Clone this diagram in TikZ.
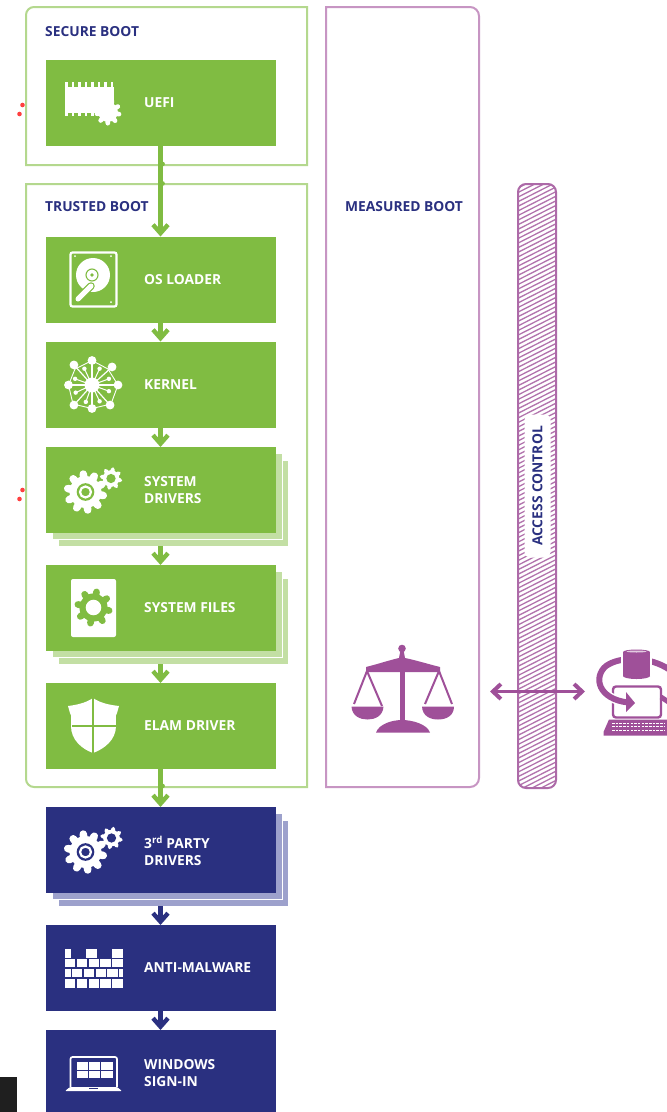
\documentclass[tikz,border=0pt]{standalone}
\usepackage{fontspec}
\setmainfont{Open Sans}
\usetikzlibrary{arrows.meta,calc}
\definecolor{grn}{HTML}{80BC42}
\definecolor{grnline}{HTML}{B4D88E}
\definecolor{grnshade}{HTML}{C3DFA4}
\definecolor{nvy}{HTML}{2A3080}
\definecolor{nvyshade}{HTML}{9DA1CC}
\definecolor{prp}{HTML}{9F5099}
\definecolor{prpline}{HTML}{C795C3}
\tikzset{
  box/.style={rectangle,inner sep=0pt,outer sep=0pt,minimum width=230pt,minimum height=86pt},
  gbox/.style={box,fill=grn},
  nbox/.style={box,fill=nvy},
  gshade/.style={box,fill=grnshade,draw=white,line width=1pt},
  nshade/.style={box,fill=nvyshade,draw=white,line width=1pt},
  lbl/.style={anchor=west,inner sep=0pt,text=white,font=\fontsize{13.8}{17}\selectfont\bfseries,align=left},
  head/.style={anchor=west,inner sep=0pt,text=nvy,font=\fontsize{13.8}{17}\selectfont\bfseries},
  frameg/.style={draw=grnline,line width=2pt},
  framep/.style={draw=prpline,line width=2pt},
  flowg/.style={draw=grn,line width=4.2pt,-{Straight Barb[length=8.5pt,width=15pt,line width=4.4pt]}},
  flown/.style={draw=nvy,line width=4.2pt,-{Straight Barb[length=8.5pt,width=15pt,line width=4.4pt]}},
  twoway/.style={draw=prp,line width=3.5pt,{Straight Barb[length=8pt,width=15pt,line width=4pt]}-{Straight Barb[length=8pt,width=15pt,line width=4pt]}},
  reddot/.style={circle,fill=red!75!white,inner sep=0pt,minimum size=4.6pt}
}
% centre x, centre y, radius, teeth, colour, hole colour, hole radius
\newcommand{\gearicon}[7]{%
  \begin{scope}[shift={(#1,#2)}]
    \fill[#5] (0,0) circle ({0.76*#3});
    \pgfmathsetmacro{\gstep}{360/#4}
    \foreach \ga in {1,...,#4}{
      \draw[#5,line width={0.36*#3},line cap=round] (\ga*\gstep+11:{0.6*#3}) -- (\ga*\gstep+11:{0.86*#3});
    }
    \fill[#6] (0,0) circle ({0.42*#3});
    \fill[#5] (0,0) circle (#7);
  \end{scope}}
\begin{document}
\begin{tikzpicture}[x=1pt,y=-1pt]
\useasboundingbox (0,0) rectangle (667,1112);
\fill[white] (0,0) rectangle (667,1112);

% red marks and black corner
\node[reddot] (r1) at (22.5,105) {};
\node[reddot] (r2) at (19.5,114) {};
\node[reddot] (r3) at (22.5,490) {};
\node[reddot] (r4) at (19.5,499) {};
\fill[black!88] (0,1077) rectangle (17,1112);

% containers
\draw[frameg] (26,165) [rounded corners=8pt] -- (26,7) [sharp corners] -- (307,7) -- (307,165) -- cycle;
\draw[frameg] (26,184) [rounded corners=8pt] -- (26,787) [sharp corners] -- (307,787) -- (307,184) -- cycle;
\draw[framep,rounded corners=9pt] (326,7) [sharp corners] -- (326,787) [rounded corners=9pt] -- (479,787) -- (479,7) [sharp corners] -- cycle;
\node[head] (hsec) at (45,31.5) {SECURE BOOT};
\node[head] (htru) at (45,207) {TRUSTED BOOT};
\node[head] (hmea) at (345,207) {MEASURED BOOT};

% stacked shadows
\node[gshade] (sd2) at (173.5,503) {};
\node[gshade] (sd1) at (167,496.5) {};
\node[gshade] (sf2) at (173.5,621) {};
\node[gshade] (sf1) at (167,614.5) {};
\node[nshade] (pd2) at (173.5,863) {};
\node[nshade] (pd1) at (167,856.5) {};

% boxes
\node[gbox] (uefi) at (160.5,102.5) {};
\node[gbox] (os) at (160.5,279.5) {};
\node[gbox] (kern) at (160.5,384.5) {};
\node[gbox] (sd) at (160.5,490) {};
\node[gbox] (sf) at (160.5,608) {};
\node[gbox] (elam) at (160.5,726) {};
\node[nbox] (pd) at (160.5,850) {};
\node[nbox] (am) at (160.5,968) {};
\node[nbox,minimum height=82pt] (ws) at (160.5,1071) {};

% connectors
\draw[flowg] (uefi.south) -- (os.north);
\draw[flowg] (os.south) -- (kern.north);
\draw[flowg] (kern.south) -- (sd.north);
\draw[flowg] (sd2.south -| sd.south) -- (sf.north);
\draw[flowg] (sf2.south -| sf.south) -- (elam.north);
\draw[flowg] (elam.south) -- (pd.north);
\draw[flown] (pd2.south -| pd.south) -- (am.north);
\draw[flown] (am.south) -- (ws.north);
% small kinks where the flow crosses the frames
\foreach \ky in {164,183.5,786}{\fill[grn] (162.5,\ky) circle (2.4);}

% labels
\node[lbl] (t1) at (144,102.5) {UEFI};
\node[lbl] (t2) at (144,279.5) {OS LOADER};
\node[lbl] (t3) at (144,384.5) {KERNEL};
\node[lbl] (t4) at (144,490) {SYSTEM\\DRIVERS};
\node[lbl] (t5) at (144,607.5) {SYSTEM FILES};
\node[lbl] (t6) at (144,725.5) {ELAM DRIVER};
\node[lbl] (t7) at (144,850.5) {3\textsuperscript{rd} PARTY\\DRIVERS};
\node[lbl] (t8) at (144,968) {ANTI-MALWARE};
\node[lbl] (t9) at (144,1073) {WINDOWS\\SIGN-IN};

% icon: chip
\fill[white] (65,87) rectangle (114,113);
\foreach \tx in {65,71.5,...,113}{\fill[white] (\tx,81.5) rectangle (\tx+2.6,87); }
\foreach \tx in {65,71.5,...,92}{\fill[white] (\tx,113) rectangle (\tx+2.6,116); }
\gearicon{108}{112}{13}{9}{white}{white}{0}

% icon: disk
\draw[white,line width=2.2pt,rounded corners=2pt] (70.5,252.5) rectangle (116.5,306.5);
\fill[white] (93,275) circle (17);
\draw[grn,line width=1.1pt] (92,275) circle (6);
\fill[grn] (92,275) circle (1.8);
\draw[grn,line width=7.5pt,line cap=round] (78,299) -- (91,286);
\draw[white,line width=5pt,line cap=round] (78,299) -- (91,286);
\foreach \dx/\dy in {75/256,111/256,111/302}{\fill[white] (\dx,\dy) circle (1);}

% icon: kernel
\foreach \ka/\kr in {270/24.5,318/27,0/26,48/27,90/23.5,132/27,180/23.5,228/27}{
  \draw[white,line width=1.2pt] (92,385) -- ++(\ka:\kr);
  \fill[white] (92,385) ++(\ka:\kr) circle (4.4);
}
\foreach \ka in {20,65,110,155,200,245,295,340}{
  \draw[white,line width=1pt] (92,385) -- ++(\ka:18);
  \fill[white] (92,385) ++(\ka:18) circle (2.2);
}
\draw[white,line width=.9pt] (92,360.5) -- (108,369) -- (118,385) -- (111,404) -- (92,408.5) -- (73,404) -- (68.5,385) -- (75,369) -- cycle;
\fill[white] (92,385) circle (7.5);

% icon: system drivers gears
\gearicon{85.5}{492}{21}{10}{white}{grn}{0}
\draw[white,line width=2.2pt] (85.5,492) circle (5.5);
\gearicon{111}{478.5}{11}{8}{white}{grn}{0}

% icon: system files
\fill[white,rounded corners=2pt] (71,579) rectangle (116,637);
\gearicon{93.5}{607.5}{18.5}{8}{grn}{white}{0}

% icon: shield
\fill[white] (93,698) .. controls (86,703) and (76,705) .. (68,706) -- (70,713) .. controls (72,716) and (71,720) .. (71,726)
  .. controls (71,740) and (82,749) .. (93,753) .. controls (104,749) and (116,740) .. (116,726) .. controls (116,720) and (115,716) .. (117,713) -- (119,706) .. controls (110,705) and (100,703) .. (93,698) -- cycle;
\draw[grn,line width=1.6pt] (93,698) -- (93,753);
\draw[grn,line width=1.6pt] (72,726) -- (116,726);

% icon: third party gears
\gearicon{85.5}{852}{21}{10}{white}{nvy}{0}
\draw[white,line width=2.2pt] (85.5,852) circle (5.5);
\gearicon{111.5}{838}{11}{8}{white}{nvy}{0}

% icon: wall
\fill[white] (65,949) rectangle (71,957.5);
\fill[white] (86,949) rectangle (97,957.5);
\fill[white] (111.5,949) rectangle (122.5,957.5);
\foreach \wx in {65,76.8,88.6,100.4,112.2}{\fill[white] (\wx,958.8) rectangle (\wx+10.3,967.2);}
\fill[white] (65,968.6) rectangle (70.5,977.2);
\foreach \wx in {71.9,83.7,95.5,107.3}{\fill[white] (\wx,968.6) rectangle (\wx+10.3,977.2);}
\fill[white] (119,968.6) rectangle (122.5,977.2);
\foreach \wx in {65,76.8,88.6,100.4,112.2}{\fill[white] (\wx,978.6) rectangle (\wx+10.3,988);}

% icon: laptop
\draw[white,line width=1.7pt,rounded corners=2pt] (70.5,1087) -- (70.5,1057) -- (117,1057) -- (117,1087);
\fill[white] (77,1062) rectangle (113,1078);
\draw[nvy,line width=1pt] (88,1062) -- (88,1078) (100,1062) -- (100,1078) (77,1070) -- (113,1070);
\fill[white,rounded corners=1pt] (65,1091) -- (70,1087) -- (117,1087) -- (122,1091) -- cycle;
\fill[nvy] (89,1087.5) rectangle (98,1089);

% access control bar
\begin{scope}
  \clip[rounded corners=8pt] (518,184) rectangle (556,788);
  \foreach \hy in {180,184.6,...,810}{
    \draw[prp!80!white,line width=1.3pt] (510,\hy+12) -- (565,\hy-16);
  }
\end{scope}
\draw[prp!85!white,line width=2pt,rounded corners=8pt] (518,184) rectangle (556,788);
\node[fill=white,rounded corners=5pt,minimum width=143pt,minimum height=26pt,inner sep=0pt,rotate=90,text=nvy,font=\fontsize{13.8}{15}\selectfont\bfseries] (ac) at (537.5,486) {ACCESS CONTROL};

% icon: scales
\fill[prp] (402,648.5) circle (3.8);
\fill[prp] (400.5,650) -- (403.5,650) -- (405,658) .. controls (415,660) and (428,664) .. (440,667) -- (440,672) -- (366,672) -- (366,667) .. controls (378,664) and (390,660) .. (399,658) -- cycle;
\fill[prp] (399.5,668) rectangle (405,722);
\fill[prp] (376,732.5) .. controls (379,724) and (392,720) .. (402,720) .. controls (412,720) and (427,724) .. (430,732.5) -- cycle;
\draw[prp,line width=2pt] (354,704) -- (367,671) -- (382,706);
\draw[prp,line width=2pt] (425,704) -- (439,671) -- (452,704);
\fill[prp] (351.5,706.5) .. controls (352,716) and (360,719.5) .. (367.5,719.5) .. controls (375,719.5) and (383,716) .. (383.5,706.5) -- cycle;
\fill[prp] (422,706.5) .. controls (422.5,716) and (430,719.5) .. (438,719.5) .. controls (446,719.5) and (454,716) .. (454,706.5) -- cycle;

% two-way arrow
\coordinate (aL) at (490,691.5);
\coordinate (aR) at (585,691.5);
\draw[twoway] (aL) -- (aR);

% icon: computer with database
\begin{scope}
\clip (590,640) rectangle (667,745);
\draw[prp,line width=2.4pt,rounded corners=3pt] (613,686.5) rectangle (661,717.5);
\draw[prp,line width=5pt] (661,697) -- (670,703);
\fill[prp] (609,719.5) -- (667,719.5) -- (672,735.5) -- (603.5,735.5) -- (603.5,732) -- cycle;
\foreach \ky in {723,726.5,730}{
  \draw[white,line width=1pt,dash pattern=on 2.5pt off 1.2pt] (612,\ky) -- (664,\ky);
}
\draw[white,line width=9pt] (670,670) .. controls (650,656) and (620,656) .. (606,666) .. controls (593,677) and (598,699) .. (628,702.5);
\draw[prp,line width=6pt] (670,670) .. controls (650,656) and (620,656) .. (606,666) .. controls (593,677) and (598,699) .. (628,702.5);
\fill[prp] (626,692) -- (635,703) -- (626,712) -- cycle;
\fill[white] (621,652) rectangle (652,680);
\fill[prp] (623,652) rectangle (650,676);
\fill[prp] (636.5,676) ellipse (13.5 and 3);
\fill[prp] (636.5,652) ellipse (13.5 and 2.5);
\fill[prp!30!white] (636.5,651.5) ellipse (10 and 1);
\end{scope}
\end{tikzpicture}
\end{document}
